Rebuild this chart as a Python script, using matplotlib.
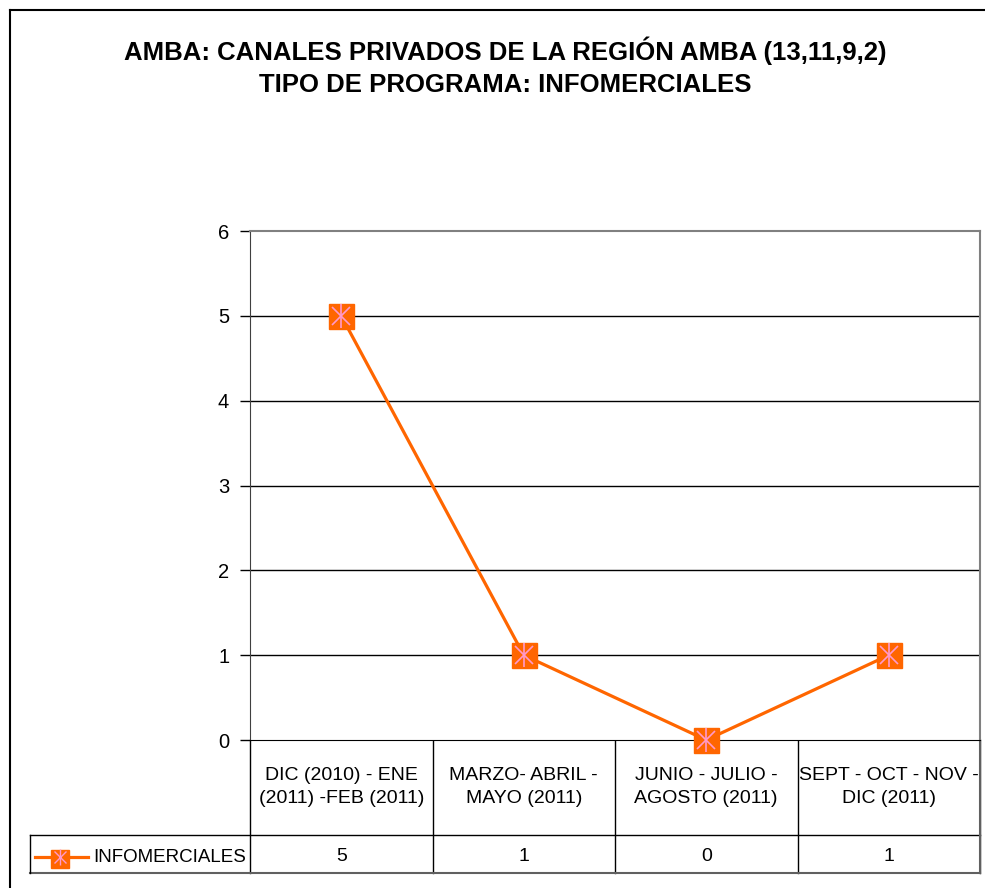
import matplotlib
matplotlib.use("Agg")
import matplotlib.pyplot as plt

plt.rcParams['font.family'] = ['Liberation Sans', 'DejaVu Sans']

# data
categories = ["DIC (2010) - ENE\n(2011) -FEB (2011)",
              "MARZO- ABRIL -\nMAYO (2011)",
              "JUNIO - JULIO -\nAGOSTO (2011)",
              "SEPT - OCT - NOV -\nDIC (2011)"]
series_name = "INFOMERCIALES"
values = [5, 1, 0, 1]
y_ticks = [0, 1, 2, 3, 4, 5, 6]

title = "AMBA: CANALES PRIVADOS DE LA REGIÓN AMBA (13,11,9,2)\nTIPO DE PROGRAMA: INFOMERCIALES"

W, H = 985, 888
orange = "#FF6600"
pink = "#FF99CC"

fig = plt.figure(figsize=(W / 100, H / 100), dpi=100)

# plot area in pixel coords
left, right, top, bottom = 250, 980, 231, 740
ax = fig.add_axes([left / W, 1 - bottom / H, (right - left) / W, (bottom - top) / H])
ax.set_xlim(-0.5, len(values) - 0.5)
ax.set_ylim(0, 6)
ax.set_yticks(y_ticks)
ax.set_xticks([])
ax.tick_params(axis='y', length=7, width=1, color='black', labelsize=14.5, pad=8)
for yt in y_ticks[1:-1]:
    ax.axhline(yt, color='black', lw=1, zorder=1)
ax.spines['top'].set_color('#808080')
ax.spines['right'].set_color('#808080')
ax.spines['top'].set_linewidth(1.5)
ax.spines['right'].set_linewidth(1.5)
ax.spines['left'].set_color('#404040')
ax.spines['bottom'].set_color('black')

xs = list(range(len(values)))
ax.plot(xs, values, color=orange, lw=2.3, zorder=3, clip_on=False)
ax.plot(xs, values, ls='none', marker='s', ms=18, mfc=orange, mec=orange, zorder=4, clip_on=False)
ax.plot(xs, values, ls='none', marker='x', ms=13, mec=pink, mew=1.2, zorder=5, clip_on=False)
ax.plot(xs, values, ls='none', marker='|', ms=17, mec=pink, mew=1.2, zorder=5, clip_on=False)

# overlay for title, frame and data table (pixel coords)
ov = fig.add_axes([0, 0, 1, 1], zorder=-1)
ov.set_xlim(0, W)
ov.set_ylim(H, 0)
ov.axis('off')

ov.plot([10, 10], [10, H + 5], color='black', lw=1.5)
ov.plot([10, W + 5], [10, 10], color='black', lw=1.5)

ov.text(505, 67, title, ha='center', va='center', fontsize=18.5, fontweight='bold',
        linespacing=1.4)

# data table
row1_bot, row2_bot = 835, 873
col_w = (right - left) / len(values)
col_x = [left + i * col_w for i in range(len(values) + 1)]
for cx in col_x:
    ov.plot([cx, cx], [bottom, row2_bot], color='black', lw=1)
ov.plot([30, right], [row1_bot, row1_bot], color='black', lw=1)
ov.plot([30, right], [row2_bot, row2_bot], color='#606060', lw=1.5)
ov.plot([30, 30], [row1_bot, row2_bot], color='black', lw=1)
ov.plot([right, right], [bottom, row2_bot], color='#606060', lw=1.5)

for i, (cat, v) in enumerate(zip(categories, values)):
    cx = (col_x[i] + col_x[i + 1]) / 2
    ov.text(cx, 787, cat, ha='center', va='center', fontsize=14, linespacing=1.4)
    ov.text(cx, 856, str(v), ha='center', va='center', fontsize=14)

# legend key in table
ov.plot([35, 88], [857, 857], color=orange, lw=2.3)
ov.plot([60], [859], marker='s', ms=13, mfc=orange, mec=orange, ls='none')
ov.plot([60], [857], marker='x', ms=9, mec=pink, mew=1, ls='none')
ov.plot([60], [857], marker='|', ms=11, mec=pink, mew=1, ls='none')
ov.text(93, 857, series_name, ha='left', va='center', fontsize=13.5)

fig.savefig("out.png", dpi=100)
